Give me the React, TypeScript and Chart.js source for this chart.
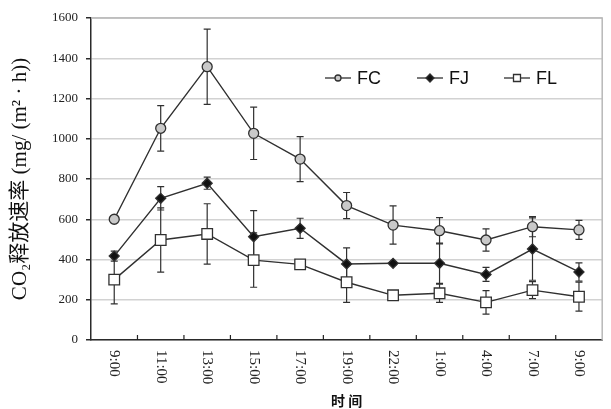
import React, { useEffect, useRef } from 'react';
import { Chart, registerables } from 'chart.js';

Chart.register(...registerables);

const categories = ['9:00', '11:00', '13:00', '15:00', '17:00', '19:00', '22:00', '1:00', '4:00', '7:00', '9:00'];
const fcValues = [600, 1052, 1358, 1027, 899, 668, 571, 543, 497, 563, 547];
const fcErrors = [8, 113, 187, 130, 112, 65, 95, 65, 55, 50, 47];
const fjValues = [417, 704, 779, 513, 555, 378, 381, 381, 326, 452, 338];
const fjErrors = [25, 58, 30, 130, 50, 80, 8, 100, 35, 155, 45];
const flValues = [300, 497, 527, 397, 376, 287, 222, 232, 187, 248, 215];
const flErrors = [120, 160, 150, 135, 8, 100, 15, 45, 58, 42, 72];
const yTicks = [0, 200, 400, 600, 800, 1000, 1200, 1400, 1600];

const seriesNames = ['FC', 'FJ', 'FL'];
const LINE = '#303030';
const SERIF = '"Liberation Serif", "Times New Roman", serif';

function drawMarker(ctx: CanvasRenderingContext2D, kind: string, x: number, y: number, s: number) {
  ctx.save();
  ctx.lineWidth = 1.3;
  ctx.strokeStyle = LINE;
  ctx.beginPath();
  if (kind === 'circle') {
    ctx.fillStyle = '#c9c9c9';
    ctx.arc(x, y, s, 0, Math.PI * 2);
  } else if (kind === 'rectRot') {
    ctx.fillStyle = '#111';
    ctx.moveTo(x, y - s);
    ctx.lineTo(x + s, y);
    ctx.lineTo(x, y + s);
    ctx.lineTo(x - s, y);
    ctx.closePath();
  } else {
    ctx.fillStyle = '#fff';
    ctx.rect(x - s, y - s, 2 * s, 2 * s);
  }
  ctx.fill();
  ctx.stroke();
  ctx.restore();
}

const errorBarPlugin = {
  id: 'errorBars',
  beforeDatasetsDraw(chart: any) {
    const ctx = chart.ctx;
    const yScale = chart.scales.y;
    chart.data.datasets.forEach((ds: any, di: number) => {
      const meta = chart.getDatasetMeta(di);
      ctx.save();
      ctx.strokeStyle = LINE;
      ctx.lineWidth = 1.2;
      meta.data.forEach((pt: any, i: number) => {
        const v = ds.data[i];
        const e = ds.errors[i];
        const yT = yScale.getPixelForValue(v + e);
        const yB = yScale.getPixelForValue(v - e);
        const x = pt.x;
        ctx.beginPath();
        ctx.moveTo(x, yT);
        ctx.lineTo(x, yB);
        ctx.moveTo(x - 3.5, yT);
        ctx.lineTo(x + 3.5, yT);
        ctx.moveTo(x - 3.5, yB);
        ctx.lineTo(x + 3.5, yB);
        ctx.stroke();
      });
      ctx.restore();
    });
  },
};

const framePlugin = {
  id: 'frame',
  beforeDatasetsDraw(chart: any) {
    const { ctx, chartArea } = chart;
    ctx.save();
    ctx.strokeStyle = '#b8b8b8';
    ctx.lineWidth = 1.5;
    ctx.beginPath();
    ctx.moveTo(chartArea.left, chartArea.top);
    ctx.lineTo(chartArea.right, chartArea.top);
    ctx.lineTo(chartArea.right, chartArea.bottom);
    ctx.stroke();
    // inner tick marks between categories
    const xs = chart.scales.x;
    ctx.strokeStyle = '#222';
    ctx.lineWidth = 1.2;
    ctx.beginPath();
    for (let i = 1; i < categories.length; i++) {
      const x = (xs.getPixelForValue(i - 1) + xs.getPixelForValue(i)) / 2;
      ctx.moveTo(x, chartArea.bottom);
      ctx.lineTo(x, chartArea.bottom - 5);
    }
    ctx.stroke();
    ctx.restore();
  },
};

const xLabelPlugin = {
  id: 'xLabels',
  afterDraw(chart: any) {
    const { ctx, chartArea } = chart;
    const xs = chart.scales.x;
    ctx.save();
    ctx.fillStyle = '#222';
    ctx.font = '15px ' + SERIF;
    ctx.textAlign = 'left';
    ctx.textBaseline = 'middle';
    (chart.data.labels as string[]).forEach((lab, i) => {
      const x = xs.getPixelForValue(i);
      ctx.save();
      ctx.translate(x, chartArea.bottom + 10);
      ctx.rotate(Math.PI / 2);
      ctx.fillText(lab, 0, 0);
      ctx.restore();
    });
    ctx.restore();
  },
};

const legendPlugin = {
  id: 'customLegend',
  afterDraw(chart: any) {
    const { ctx, chartArea } = chart;
    const y = chartArea.top + 60;
    const starts = [chartArea.left + 234, chartArea.left + 326, chartArea.left + 413];
    const kinds = ['circle', 'rectRot', 'rect'];
    const sizes = [3, 4, 3.5];
    ctx.save();
    chart.data.datasets.forEach((ds: any, i: number) => {
      const x0 = starts[i];
      ctx.strokeStyle = LINE;
      ctx.lineWidth = 1.3;
      ctx.beginPath();
      ctx.moveTo(x0, y);
      ctx.lineTo(x0 + 26, y);
      ctx.stroke();
      drawMarker(ctx, kinds[i], x0 + 13, y, sizes[i]);
      ctx.fillStyle = '#111';
      ctx.font = '18px "Liberation Sans", Arial, sans-serif';
      ctx.textBaseline = 'middle';
      ctx.textAlign = 'left';
      ctx.fillText(ds.label, x0 + 32, y + 1);
    });
    ctx.restore();
  },
};

export default function App() {
  const ref = useRef<HTMLCanvasElement | null>(null);

  useEffect(() => {
    document.body.style.margin = '0';
    document.body.style.background = '#fff';
    if (!ref.current) return;
    const common = {
      borderColor: LINE,
      borderWidth: 1.4,
      tension: 0,
      pointBorderColor: LINE,
      pointBorderWidth: 1.3,
    };
    const chart = new Chart(ref.current, {
      type: 'line',
      data: {
        labels: categories,
        datasets: [
          {
            ...common,
            label: seriesNames[0],
            data: fcValues,
            errors: fcErrors,
            pointStyle: 'circle',
            pointRadius: 5,
            pointBackgroundColor: '#c9c9c9',
          } as any,
          {
            ...common,
            label: seriesNames[1],
            data: fjValues,
            errors: fjErrors,
            pointStyle: 'rectRot',
            pointRadius: 5,
            pointBackgroundColor: '#111',
          } as any,
          {
            ...common,
            label: seriesNames[2],
            data: flValues,
            errors: flErrors,
            pointStyle: 'rect',
            pointRadius: 7.5,
            pointBackgroundColor: '#fff',
          } as any,
        ],
      },
      options: {
        responsive: false,
        animation: false,
        devicePixelRatio: 1,
        layout: { padding: { top: 18, right: 8, bottom: 0, left: 0 } },
        plugins: {
          legend: { display: false },
          tooltip: { enabled: false },
          title: { display: false },
        },
        scales: {
          x: {
            type: 'category',
            offset: true,
            afterFit: (s: any) => {
              s.height = 69;
            },
            grid: { display: false, drawTicks: false },
            border: { display: true, color: '#2a2a2a', width: 1.5 },
            ticks: { display: false },
            title: {
              display: true,
              text: '时 间',
              color: '#111',
              align: 'center',
              padding: { top: 0, bottom: 0 },
              font: { family: '"Noto Sans CJK SC", sans-serif', size: 14, weight: 'bold' },
            },
          },
          y: {
            min: 0,
            max: 1600,
            afterFit: (s: any) => {
              s.width = 91;
            },
            afterBuildTicks: (s: any) => {
              s.ticks = yTicks.map((v) => ({ value: v }));
            },
            grid: { color: '#d2d2d2', lineWidth: 1.5, tickColor: '#2a2a2a', tickLength: 5 },
            border: { display: true, color: '#2a2a2a', width: 1.5 },
            ticks: {
              padding: 8,
              color: '#222',
              font: { family: SERIF, size: 13 },
              callback: (v: any) => String(v),
            },
            title: {
              display: true,
              text: 'CO₂释放速率 (mg/ (m² · h))',
              color: '#111',
              padding: { top: 8, bottom: 0 },
              font: { family: '"Liberation Serif", "Noto Sans CJK SC", serif', size: 21 },
            },
          },
        },
      },
      plugins: [framePlugin, errorBarPlugin, xLabelPlugin, legendPlugin],
    } as any);
    return () => chart.destroy();
  }, []);

  return (
    <div style={{ width: 611, height: 409 }}>
      <canvas ref={ref} width={611} height={409} />
    </div>
  );
}
